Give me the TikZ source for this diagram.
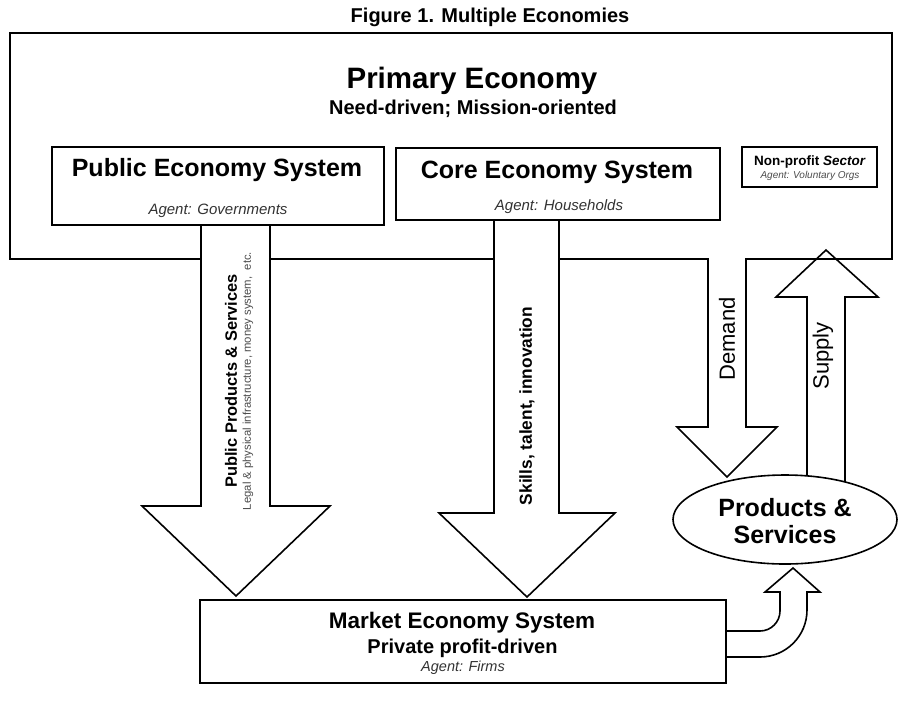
\documentclass[tikz,border=0pt]{standalone}
\usepackage{fontspec}
\setmainfont{Liberation Sans}
\usetikzlibrary{shapes.geometric}
\begin{document}
\begin{tikzpicture}[x=1pt, y=-1pt,
        sysbox/.style={draw, line width=1.6pt, fill=white, inner sep=0pt},
        blockarrow/.style={draw, line width=1.6pt, fill=white, line join=miter},
        agent/.style={font=\fontsize{15}{17}\selectfont\itshape, text=black!80}]
    \useasboundingbox (0,0) rectangle (902,705);

    % title and the primary economy frame
    \node[font=\fontsize{20}{23}\selectfont\bfseries] (title) at (490,17) {Figure 1. Multiple Economies};
    \node[draw, line width=1.6pt, minimum width=882pt, minimum height=226pt, inner sep=0pt] (primary) at (451,146) {};
    \node[font=\fontsize{29.5}{33}\selectfont\bfseries] (primname) at (472,81) {Primary Economy};
    \node[font=\fontsize{20}{23}\selectfont\bfseries] (primsub) at (473,109) {Need-driven; Mission-oriented};

    % block arrows
    \draw[blockarrow] (201,215) -- (201,506) -- (142,506) -- (236,596) -- (330,506) -- (270,506) -- (270,215);
    \draw[blockarrow] (494,210) -- (494,513) -- (439,513) -- (527,597) -- (615,513) -- (559,513) -- (559,210);
    \draw[blockarrow] (708,258) -- (708,427) -- (677,427) -- (727,477) -- (777,427) -- (746,427) -- (746,258);
    \draw[blockarrow, fill=none] (807,500) -- (807,297) -- (776,297) -- (826,250) -- (878,297) -- (845,297) -- (845,500);
    \draw[blockarrow] (715,631) -- (760,631) .. controls (771,631) and (780,622) .. (780,611) -- (780,592)
        -- (765,592) -- (793,568) -- (820,592) -- (807,592) -- (807,610)
        .. controls (807,636) and (786,657) .. (760,657) -- (715,657);

    % arrow labels
    \node[rotate=90, font=\fontsize{16.4}{19}\selectfont\bfseries] (publbl) at (231,381) {Public Products \& Services};
    \node[rotate=90, font=\fontsize{11.3}{13}\selectfont, text=black!70] (publblsub) at (248,381) {Legal \& physical infrastructure, money system,\ \ etc.};
    \node[rotate=90, font=\fontsize{17.3}{20}\selectfont\bfseries] (skillslbl) at (527,406) {Skills, talent, innovation};
    \node[rotate=90, font=\fontsize{22}{25}\selectfont] (demandlbl) at (727,339) {Demand};
    \node[rotate=90, font=\fontsize{22}{25}\selectfont] (supplylbl) at (823,356) {Supply};

    % economy systems
    \node[sysbox, minimum width=332pt, minimum height=78pt] (pub) at (218,186) {};
    \node[font=\fontsize{25}{28}\selectfont\bfseries] (pubname) at (217,170) {Public Economy System};
    \node[agent] (pubagent) at (218,211) {Agent: Governments};

    \node[sysbox, minimum width=324pt, minimum height=72pt] (core) at (558,184) {};
    \node[font=\fontsize{25}{28}\selectfont\bfseries] (corename) at (557,172) {Core Economy System};
    \node[agent] (coreagent) at (559,207) {Agent: Households};

    \node[sysbox, minimum width=135pt, minimum height=40pt] (npo) at (809.5,167) {};
    \node[font=\fontsize{13.5}{15}\selectfont\bfseries] (nponame) at (810,162) {Non-profit \textit{Sector}};
    \node[font=\fontsize{10}{11}\selectfont\itshape, text=black!70] (npoagent) at (810,176) {Agent: Voluntary Orgs};

    \node[sysbox, minimum width=526pt, minimum height=83pt] (market) at (463,641.5) {};
    \node[font=\fontsize{22.5}{25}\selectfont\bfseries] (marketname) at (462,623) {Market Economy System};
    \node[font=\fontsize{20}{23}\selectfont\bfseries] (marketsub) at (462.5,648) {Private profit-driven};
    \node[agent, font=\fontsize{14.5}{16}\selectfont\itshape] (marketagent) at (463,668) {Agent: Firms};

    \node[draw, ellipse, line width=1.6pt, fill=white, minimum width=224pt, minimum height=89pt, inner sep=0pt] (prod) at (785,519.5) {};
    \node[font=\fontsize{25}{27}\selectfont\bfseries, align=center] (prodname) at (785,521) {Products \&\\Services};
\end{tikzpicture}
\end{document}
